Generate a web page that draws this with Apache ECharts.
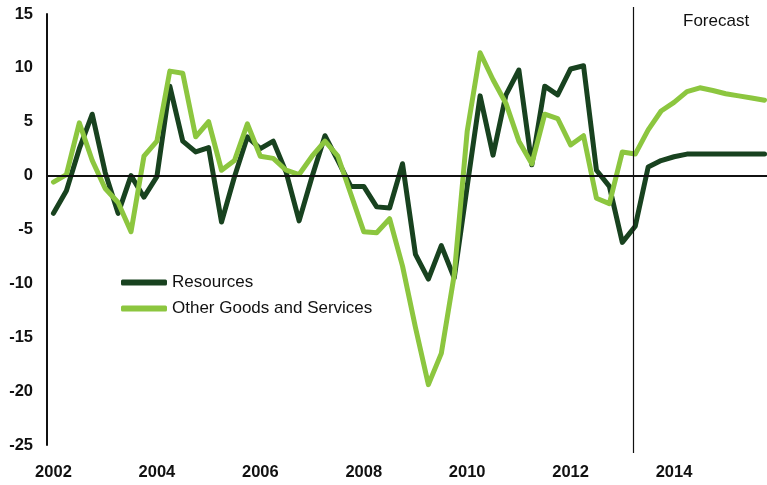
<!DOCTYPE html>
<html>
<head>
<meta charset="utf-8">
<script src="https://cdn.jsdelivr.net/npm/echarts@6/dist/echarts.min.js"></script>
<style>
  html, body { margin: 0; padding: 0; background: #ffffff; overflow: hidden; }
  /* the plot runs slightly past the right edge of the page */
  #chart { width: 775px; height: 485px; }
</style>
</head>
<body>
<div id="chart"></div>
<script>
// Quarterly observations, 2002 Q1 to 2015 Q4
const years = [2002, 2003, 2004, 2005, 2006, 2007, 2008, 2009, 2010, 2011, 2012, 2013, 2014, 2015];
const quarters = years.flatMap(y => [y + ' Q1', y + ' Q2', y + ' Q3', y + ' Q4']);
const yearTickLabels = ['2002', '2004', '2006', '2008', '2010', '2012', '2014'];

const resources = [
  -3.5, -1.4, 2.5, 5.7, 0.3, -3.5, 0.0, -2.0,
  -0.1, 8.3, 3.2, 2.2, 2.6, -4.3, -0.1, 3.6,
  2.5, 3.2, 0.3, -4.2, -0.1, 3.7, 1.4, -1.0,
  -1.0, -2.9, -3.0, 1.1, -7.3, -9.6, -6.5, -9.5,
  -1.0, 7.4, 1.9, 7.5, 9.8, 1.0, 8.3, 7.5,
  9.9, 10.2, 0.5, -1.0, -6.2, -4.7, 0.8, 1.4,
  1.75, 2.0, 2.0, 2.0, 2.0, 2.0, 2.0, 2.0
];
const otherGoods = [
  -0.6, 0.1, 4.9, 1.4, -1.2, -2.5, -5.2, 1.8,
  3.2, 9.7, 9.5, 3.6, 5.0, 0.5, 1.4, 4.8,
  1.8, 1.6, 0.5, 0.1, 1.8, 3.2, 1.8, -1.7,
  -5.2, -5.3, -4.0, -8.4, -14.1, -19.4, -16.5, -9.2,
  4.1, 11.4, 8.9, 6.7, 3.2, 1.1, 5.7, 5.3,
  2.85, 3.7, -2.1, -2.6, 2.2, 2.0, 4.25, 6.0,
  6.8, 7.8, 8.15, 7.9, 7.6, 7.4, 7.2, 7.0
];

// Forecast period begins part-way through 2013 (fractional quarter index)
const forecastStart = 44.85;
const forecastLabel = 'Forecast';

const darkGreen = '#18421f';
const lightGreen = '#8cc63f';
const ink = '#111111';
const font = 'Liberation Sans, Arial, sans-serif';

const chart = echarts.init(document.getElementById('chart'), null, { renderer: 'canvas' });

chart.setOption({
  animation: false,
  backgroundColor: '#ffffff',
  grid: { left: 47, top: 14, width: 724, height: 431, containLabel: false },
  legend: {
    orient: 'vertical',
    left: 116,
    top: 269,
    itemWidth: 46,
    itemHeight: 6,
    itemGap: 9,
    icon: 'roundRect',
    textStyle: { fontFamily: font, fontSize: 17, color: ink },
    data: ['Resources', 'Other Goods and Services']
  },
  xAxis: {
    type: 'category',
    data: quarters,
    boundaryGap: true,
    axisLine: { show: false, onZero: false },
    axisTick: { show: false },
    splitLine: { show: false },
    axisLabel: {
      interval: 7,
      margin: 19,
      color: ink,
      fontWeight: 'bold',
      fontSize: 16.5,
      fontFamily: font,
      formatter: (v, i) => yearTickLabels[i / 8] || ''
    }
  },
  yAxis: {
    type: 'value',
    min: -25,
    max: 15,
    interval: 5,
    axisLine: { show: true, onZero: false, lineStyle: { color: ink, width: 2 } },
    axisTick: { show: false },
    splitLine: { show: false },
    axisLabel: {
      margin: 14,
      color: ink,
      fontWeight: 'bold',
      fontSize: 16.5,
      fontFamily: font
    }
  },
  series: [
    {
      name: 'Resources',
      type: 'line',
      data: resources,
      symbol: 'none',
      color: darkGreen,
      lineStyle: { color: darkGreen, width: 5, join: 'round', cap: 'round' },
      markLine: {
        silent: true,
        symbol: 'none',
        label: { show: false },
        lineStyle: { color: ink, width: 2, type: 'solid' },
        data: [{ yAxis: 0 }]
      },
      z: 2
    },
    {
      name: 'Other Goods and Services',
      type: 'line',
      data: otherGoods,
      symbol: 'none',
      color: lightGreen,
      lineStyle: { color: lightGreen, width: 5, join: 'round', cap: 'round' },
      z: 3
    }
  ]
});

// Vertical divider marking the start of the forecast period
const q = Math.floor(forecastStart);
const x0 = chart.convertToPixel({ xAxisIndex: 0 }, quarters[q]);
const x1 = chart.convertToPixel({ xAxisIndex: 0 }, quarters[q + 1]);
const xf = Math.round(x0 + (x1 - x0) * (forecastStart - q)) + 0.5;

chart.setOption({
  graphic: [
    {
      type: 'line',
      silent: true,
      shape: { x1: xf, y1: 7, x2: xf, y2: 453 },
      style: { stroke: ink, lineWidth: 1.2 },
      z: 10
    },
    {
      type: 'text',
      silent: true,
      left: 683,
      top: 13,
      style: {
        text: forecastLabel,
        fill: ink,
        fontSize: 17,
        fontFamily: font
      }
    }
  ]
});
</script>
</body>
</html>
